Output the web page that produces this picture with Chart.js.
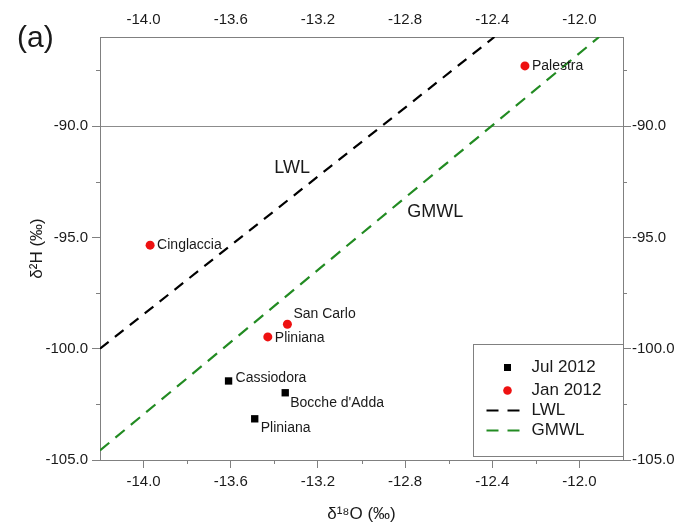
<!DOCTYPE html>
<html>
<head>
<meta charset="utf-8">
<script src="https://cdn.jsdelivr.net/npm/chart.js@4.4.0/dist/chart.umd.min.js"></script>
<style>
    html, body { margin: 0; padding: 0; background: #fff; }
    #wrap { width: 683px; height: 530px; position: relative; }
</style>
</head>
<body>
<div id="wrap"><canvas id="chart"></canvas></div>
<script>
// July 2012 samples
let julSites = ['Cassiodora', "Bocche d'Adda", 'Pliniana'];
let julO = [-13.61, -13.35, -13.49];
let julH = [-101.45, -101.98, -103.15];

// January 2012 samples
let janSites = ['Palestra', 'Cinglaccia', 'San Carlo', 'Pliniana'];
let janO = [-12.25, -13.97, -13.34, -13.43];
let janH = [-87.3, -95.35, -98.9, -99.47];

// water lines, end points
let lwlO = [-14.2, -12.39];
let lwlH = [-100.0, -86.0];
let gmwlO = [-14.2, -11.91];
let gmwlH = [-104.57, -86.0];

// axes
let xTicks = [-14.0, -13.6, -13.2, -12.8, -12.4, -12.0];
let xTickLabels = ['-14.0', '-13.6', '-13.2', '-12.8', '-12.4', '-12.0'];
let xMinorTicks = [-13.8, -13.4, -13.0, -12.6, -12.2];
let yTicks = [-105, -100, -95, -90];
let yTickLabels = ['-105.0', '-100.0', '-95.0', '-90.0'];
let yMinorTicks = [-102.5, -97.5, -92.5, -87.5];

// label placement (pixel offsets from the marker)
let julLabelOffsets = [[7, -3], [5, 10], [6, 9]];
let janLabelOffsets = [[7, 0], [7, 0], [6, -10], [7, 1]];
let lineLabels = [
    { text: 'LWL', x: -13.40, y: -91.9 },
    { text: 'GMWL', x: -12.79, y: -93.86 }
];

let axisColor = '#808080';
let textColor = '#1a1a1a';
let fontFamily = "'Liberation Sans', Arial, sans-serif";

Chart.defaults.font.family = fontFamily;
Chart.defaults.color = textColor;

function toPoints(xs, ys) {
    return xs.map(function(v, i) { return { x: v, y: ys[i] }; });
}

let extras = {
    id: 'extras',
    afterDatasetsDraw: function(chart) {
        let ctx = chart.ctx;
        let xs = chart.scales.x, ys = chart.scales.y;
        ctx.save();
        ctx.fillStyle = textColor;
        ctx.textAlign = 'left';
        ctx.textBaseline = 'middle';
        ctx.font = '14px ' + fontFamily;
        [[0, julSites, julLabelOffsets], [1, janSites, janLabelOffsets]].forEach(function(set) {
            let meta = chart.getDatasetMeta(set[0]);
            meta.data.forEach(function(el, i) {
                ctx.fillText(set[1][i], el.x + set[2][i][0], el.y + set[2][i][1]);
            });
        });
        ctx.font = '18px ' + fontFamily;
        lineLabels.forEach(function(l) {
            ctx.fillText(l.text, xs.getPixelForValue(l.x), ys.getPixelForValue(l.y));
        });
        ctx.restore();
    },
    afterDraw: function(chart) {
        let ctx = chart.ctx;
        let ca = chart.chartArea;
        let xs = chart.scales.x, ys = chart.scales.y;
        ctx.save();

        // minor ticks
        ctx.strokeStyle = axisColor;
        ctx.lineWidth = 1;
        ctx.beginPath();
        xMinorTicks.forEach(function(v) {
            let px = Math.round(xs.getPixelForValue(v)) + 0.5;
            ctx.moveTo(px, ca.bottom);
            ctx.lineTo(px, ca.bottom + 4);
        });
        yMinorTicks.forEach(function(v) {
            let py = Math.round(ys.getPixelForValue(v)) + 0.5;
            ctx.moveTo(ca.left - 4, py);
            ctx.lineTo(ca.left, py);
            ctx.moveTo(ca.right, py);
            ctx.lineTo(ca.right + 4, py);
        });
        ctx.stroke();

        // legend box
        let bw = 150, bh = 112;
        let bx = Math.round(ca.right - bw) + 0.5;
        let by = Math.round(ca.bottom - 4 - bh) + 0.5;
        ctx.fillStyle = '#fff';
        ctx.fillRect(bx, by, bw, bh);
        ctx.strokeRect(bx, by, bw, bh);
        let rows = [23, 46, 66, 86];
        ctx.font = '17px ' + fontFamily;
        ctx.textBaseline = 'middle';
        chart.data.datasets.forEach(function(ds, i) {
            let cy = by + rows[i];
            let cx = bx + 34;
            if (ds.showLine) {
                ctx.save();
                ctx.strokeStyle = ds.borderColor;
                ctx.lineWidth = ds.borderWidth;
                ctx.setLineDash([12, 9]);
                ctx.beginPath();
                ctx.moveTo(bx + 13, cy);
                ctx.lineTo(bx + 46, cy);
                ctx.stroke();
                ctx.restore();
            } else if (ds.pointStyle === 'rect') {
                ctx.fillStyle = ds.backgroundColor;
                ctx.fillRect(cx - 3.5, cy - 3.5, 7, 7);
            } else {
                ctx.fillStyle = ds.backgroundColor;
                ctx.beginPath();
                ctx.arc(cx, cy, 4.3, 0, Math.PI * 2);
                ctx.fill();
            }
            ctx.fillStyle = textColor;
            ctx.fillText(ds.label, bx + 58, cy);
        });

        // panel letter
        ctx.font = '30px ' + fontFamily;
        ctx.fillStyle = textColor;
        ctx.fillText('(a)', 17, 39);
        ctx.restore();
    }
};

function tickSetter(list) {
    return function(scale) {
        scale.ticks = list.map(function(v) { return { value: v }; });
    };
}

let ctx = document.getElementById('chart').getContext('2d');
let chartInstance = new Chart(ctx, {
    type: 'scatter',
    data: {
        datasets: [
            {
                label: 'Jul 2012',
                data: toPoints(julO, julH),
                pointStyle: 'rect',
                pointRadius: 5.2,
                backgroundColor: '#000',
                borderWidth: 0
            },
            {
                label: 'Jan 2012',
                data: toPoints(janO, janH),
                pointStyle: 'circle',
                pointRadius: 4.5,
                backgroundColor: '#ee1111',
                borderWidth: 0
            },
            {
                label: 'LWL',
                data: toPoints(lwlO, lwlH),
                showLine: true,
                pointRadius: 0,
                borderColor: '#000',
                borderWidth: 2.2,
                borderDash: [11, 8]
            },
            {
                label: 'GMWL',
                data: toPoints(gmwlO, gmwlH),
                showLine: true,
                pointRadius: 0,
                borderColor: '#228b22',
                borderWidth: 2.2,
                borderDash: [12, 8]
            }
        ]
    },
    options: {
        responsive: true,
        maintainAspectRatio: false,
        animation: false,
        layout: { padding: 0 },
        plugins: {
            legend: { display: false },
            tooltip: { enabled: false }
        },
        scales: {
            x: {
                type: 'linear',
                position: 'bottom',
                min: -14.2,
                max: -11.8,
                afterBuildTicks: tickSetter(xTicks),
                afterFit: function(s) { s.height = 70; },
                ticks: {
                    callback: function(v, i) { return xTickLabels[i]; },
                    padding: 5,
                    font: { size: 15 },
                    maxRotation: 0
                },
                grid: { drawOnChartArea: false, tickLength: 8, tickColor: axisColor },
                border: { color: axisColor },
                title: {
                    display: true,
                    text: 'δ¹⁸O (‰)',
                    font: { size: 17 },
                    padding: { top: 0, bottom: 5 }
                }
            },
            x2: {
                type: 'linear',
                position: 'top',
                min: -14.2,
                max: -11.8,
                afterBuildTicks: tickSetter(xTicks),
                afterFit: function(s) { s.height = 37; },
                ticks: {
                    callback: function(v, i) { return xTickLabels[i]; },
                    padding: 0,
                    font: { size: 15 },
                    maxRotation: 0
                },
                grid: { display: false },
                border: { color: axisColor }
            },
            y: {
                type: 'linear',
                position: 'left',
                min: -105,
                max: -86,
                afterBuildTicks: tickSetter(yTicks),
                afterFit: function(s) { s.width = 100; },
                ticks: {
                    callback: function(v, i) { return yTickLabels[i]; },
                    padding: 4,
                    font: { size: 15 }
                },
                grid: {
                    color: function(c) { return c.tick && c.tick.value === -90 ? '#8c8c8c' : 'rgba(0,0,0,0)'; },
                    tickColor: axisColor,
                    tickLength: 8
                },
                border: { color: axisColor },
                title: {
                    display: true,
                    text: 'δ²H (‰)',
                    font: { size: 17 },
                    padding: { top: 27, bottom: 0 }
                }
            },
            y2: {
                type: 'linear',
                position: 'right',
                min: -105,
                max: -86,
                afterBuildTicks: tickSetter(yTicks),
                afterFit: function(s) { s.width = 60; },
                ticks: {
                    callback: function(v, i) { return yTickLabels[i]; },
                    padding: 1,
                    font: { size: 15 }
                },
                grid: { drawOnChartArea: false, tickLength: 8, tickColor: axisColor },
                border: { color: axisColor }
            }
        }
    },
    plugins: [extras]
});
</script>
</body>
</html>
